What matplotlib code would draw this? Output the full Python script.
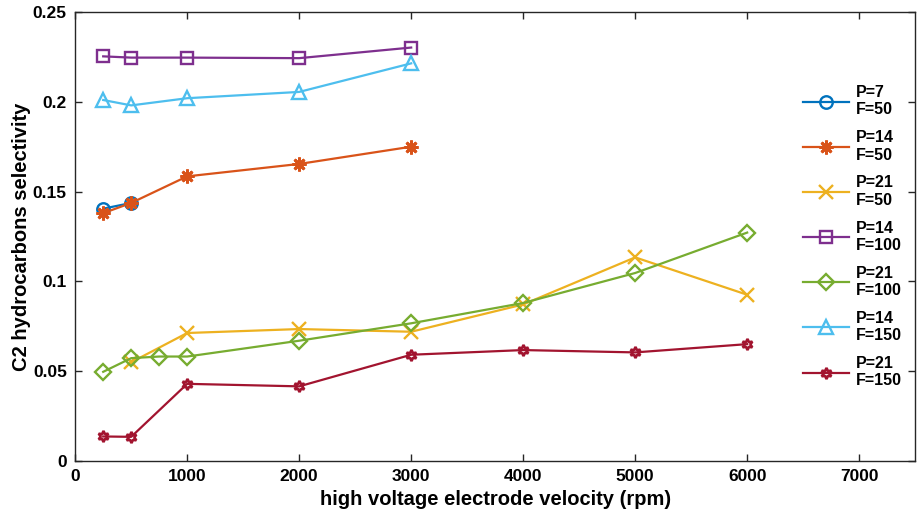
import matplotlib.pyplot as plt

plt.rcParams['font.family'] = ['Liberation Sans', 'DejaVu Sans']
plt.rcParams['font.weight'] = 'bold'

# data
x_p7_f50 = [250, 500]
y_p7_f50 = [0.1405, 0.1437]

x_p14_f50 = [250, 500, 1000, 2000, 3000]
y_p14_f50 = [0.1380, 0.1437, 0.1585, 0.1654, 0.1750]

x_p21_f50 = [500, 1000, 2000, 3000, 4000, 5000, 6000]
y_p21_f50 = [0.0550, 0.0713, 0.0735, 0.0720, 0.0872, 0.1134, 0.0926]

x_p14_f100 = [250, 500, 1000, 2000, 3000]
y_p14_f100 = [0.2253, 0.2246, 0.2246, 0.2243, 0.2302]

x_p21_f100 = [250, 500, 750, 1000, 2000, 3000, 4000, 5000, 6000]
y_p21_f100 = [0.0497, 0.0573, 0.0582, 0.0582, 0.0670, 0.0767, 0.0880, 0.1047, 0.1272]

x_p14_f150 = [250, 500, 1000, 2000, 3000]
y_p14_f150 = [0.2010, 0.1980, 0.2020, 0.2055, 0.2214]

x_p21_f150 = [250, 500, 1000, 2000, 3000, 4000, 5000, 6000]
y_p21_f150 = [0.0137, 0.0135, 0.0430, 0.0416, 0.0592, 0.0618, 0.0605, 0.0651]

fig = plt.figure(figsize=(9.17, 5.21), dpi=100)
ax = fig.add_axes([0.082, 0.115, 0.916, 0.862])

lw = 1.6
ax.plot(x_p7_f50, y_p7_f50, color='#0072BD', marker='o', fillstyle='none',
        lw=lw, ms=9, mew=1.7, label='P=7\nF=50')
ax.plot(x_p14_f50, y_p14_f50, color='#D95319', marker=(8, 2, 0),
        lw=lw, ms=10, mew=2.0, label='P=14\nF=50')
ax.plot(x_p21_f50, y_p21_f50, color='#EDB120', marker='x',
        lw=lw, ms=10, mew=1.7, label='P=21\nF=50')
ax.plot(x_p14_f100, y_p14_f100, color='#7E2F8E', marker='s', fillstyle='none',
        lw=lw, ms=8, mew=1.7, label='P=14\nF=100')
ax.plot(x_p21_f100, y_p21_f100, color='#77AC30', marker='D', fillstyle='none',
        lw=lw, ms=8, mew=1.7, label='P=21\nF=100')
ax.plot(x_p14_f150, y_p14_f150, color='#4DBEEE', marker='^', fillstyle='none',
        lw=lw, ms=10, mew=1.7, label='P=14\nF=150')
ax.plot(x_p21_f150, y_p21_f150, color='#A2142F', marker=(6, 1, 0), fillstyle='none',
        lw=lw, ms=8, mew=1.9, label='P=21\nF=150')

ax.set_xlim(0, 7500)
ax.set_ylim(0, 0.25)
ax.set_xticks([0, 1000, 2000, 3000, 4000, 5000, 6000, 7000])
ax.set_yticks([0, 0.05, 0.1, 0.15, 0.2, 0.25])
ax.set_yticklabels(['0', '0.05', '0.1', '0.15', '0.2', '0.25'])
ax.tick_params(direction='in', top=True, right=True, length=5, width=1,
               labelsize=12.5, color='#262626', pad=6)
for s in ax.spines.values():
    s.set_color('#262626')
    s.set_linewidth(1)

ax.set_xlabel('high voltage electrode velocity (rpm)', fontsize=14.5, fontweight='bold')
ax.set_ylabel('C2 hydrocarbons selectivity', fontsize=14.5, fontweight='bold', labelpad=1)

ax.legend(loc='upper left', bbox_to_anchor=(795 / 917, 1 - 77 / 521),
          bbox_transform=fig.transFigure, frameon=False, fontsize=11.5,
          handlelength=2.9, handletextpad=0.4, labelspacing=0.8, borderpad=0)

plt.savefig('out.png', dpi=100)
